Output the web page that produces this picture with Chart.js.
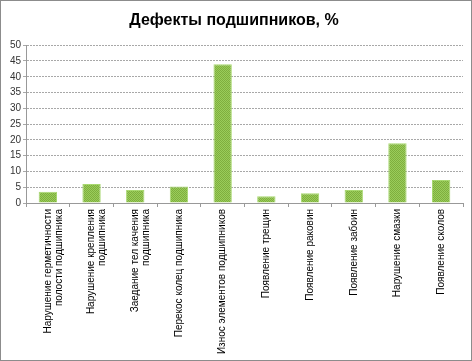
<!DOCTYPE html>
<html><head><meta charset="utf-8">
<script src="https://cdn.jsdelivr.net/npm/chart.js@4"></script>
<style>
html,body{margin:0;padding:0;background:#fff;}
#wrap{position:absolute;left:0;top:0;width:470px;height:359px;border:1px solid #8c8c8c;box-shadow:1px 1px 2px #aaa;background:#fff;}
canvas{display:block;}
</style></head>
<body><div id="wrap"><canvas id="c" width="470" height="359"></canvas></div>
<script>
const categories = [
  ["Нарушение герметичности","полости подшипника"],
  ["Нарушение крепления","подшипника"],
  ["Заедание тел качения","подшипника"],
  "Перекос колец подшипника",
  "Износ элементов подшипников",
  "Появление трещин",
  "Появление раковин",
  "Появление забоин",
  "Нарушение смазки",
  "Появление сколов"
];
const values = [3.6, 6, 4.1, 5.2, 44, 2.1, 3.1, 4.1, 18.9, 7.3];
const yTicks = [0,5,10,15,20,25,30,35,40,45,50];
const title = "Дефекты подшипников, %";

function makePattern(){
  const p=document.createElement('canvas');p.width=2;p.height=2;
  const g=p.getContext('2d');
  g.fillStyle='#9acd5a';g.fillRect(0,0,2,2);
  g.fillStyle='#7fae3f';g.fillRect(0,0,1,1);g.fillRect(1,1,1,1);
  return g.createPattern(p,'repeat');
}
const ctx=document.getElementById('c').getContext('2d');
new Chart(ctx,{
  type:'bar',
  data:{labels:categories,datasets:[{data:values,backgroundColor:makePattern(),borderColor:'#a8d870',borderWidth:1,barPercentage:0.42,categoryPercentage:1}]},
  options:{
    responsive:false,animation:false,
    layout:{padding:{left:4,right:8,top:6,bottom:2}},
    plugins:{legend:{display:false},tooltip:{enabled:false},
      title:{display:true,text:title,color:'#000',font:{family:'Liberation Sans Narrow, Liberation Sans',size:16,weight:'bold'},padding:{top:4,bottom:15}}},
    scales:{
      x:{offset:true,
        afterFit:s=>{s.height=155;},
        grid:{drawOnChartArea:false,color:'#999',tickLength:4,offset:true},
        border:{color:'#999',dash:[2,1]},
        ticks:{minRotation:90,maxRotation:90,autoSkip:false,color:'#000',font:{family:'Liberation Sans',size:10,lineHeight:1.1},padding:2}},
      y:{min:0,max:50,
        afterBuildTicks:s=>{s.ticks=yTicks.map(v=>({value:v}));},
        afterFit:s=>{s.width=21;},
        grid:{color:'#a8a8a8',tickLength:3},
        border:{color:'#999',dash:[2,1]},
        ticks:{color:'#333',font:{family:'Liberation Sans',size:10},padding:2}}
    }
  }
});
</script></body></html>
